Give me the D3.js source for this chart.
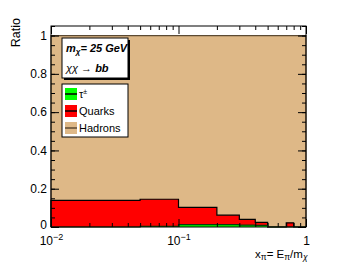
<!DOCTYPE html>
<html>
<head>
<meta charset="utf-8">
<script src="https://cdn.jsdelivr.net/npm/d3@7"></script>
<style>
  body { margin: 0; background: #fff; }
  svg { font-family: "Liberation Sans", Arial, sans-serif; }
</style>
</head>
<body>
<script>
// bin edges in x = E/m
const binEdges = [0.01, 0.05, 0.1, 0.2, 0.3, 0.4, 0.5, 0.6, 0.7, 0.8, 0.9, 1.0];
// fractions per bin
const tau = [0, 0.004, 0.012, 0.012, 0.010, 0.008, 0, 0, 0, 0, 0];
const quarks = [0.139, 0.141, 0.090, 0.050, 0.030, 0.016, 0, 0, 0.022, 0, 0];
const hadrons = [0.861, 0.855, 0.898, 0.938, 0.960, 0.976, 1, 1, 0.978, 1, 1];

const yTicks = [0, 0.2, 0.4, 0.6, 0.8, 1];
const xTicks = [0.01, 0.1, 1];

const width = 341;
const height = 264;
const margin = { top: 26, right: 35, bottom: 37, left: 51 };
const iw = width - margin.left - margin.right;
const ih = height - margin.top - margin.bottom;

const svg = d3.select('body').append('svg')
  .attr('width', width)
  .attr('height', height);

const x = d3.scaleLog().domain([0.01, 1]).range([0, iw]);
const y = d3.scaleLinear().domain([0, 1.05]).range([ih, 0]);

const g = svg.append('g')
  .attr('transform', `translate(${margin.left},${margin.top})`);

// stacked tops
const s1 = tau.slice();
const s2 = tau.map((d, i) => d + quarks[i]);
const s3 = s2.map((d, i) => d + hadrons[i]);

function stepPoints(vals) {
  const pts = [];
  vals.forEach((v, i) => {
    pts.push([binEdges[i], v]);
    pts.push([binEdges[i + 1], v]);
  });
  return pts;
}

const area = d3.area()
  .x(d => x(d[0]))
  .y0(y(0))
  .y1(d => y(d[1]));

const line = d3.line()
  .x(d => x(d[0]))
  .y(d => y(d[1]));

const layers = [
  { vals: s3, fill: '#deb887', stroke: '#5c4a33' },
  { vals: s2, fill: '#ff0000', stroke: '#000' },
  { vals: s1, fill: '#00ff00', stroke: '#0a3a0a' },
];

layers.forEach(l => {
  const pts = stepPoints(l.vals);
  g.append('path')
    .attr('d', area(pts))
    .attr('fill', l.fill);
  const outline = [[binEdges[0], 0]].concat(pts, [[binEdges[binEdges.length - 1], 0]]);
  g.append('path')
    .attr('d', line(outline))
    .attr('fill', 'none')
    .attr('stroke', l.stroke)
    .attr('stroke-width', 1.2);
});

// frame
g.append('rect')
  .attr('width', iw)
  .attr('height', ih)
  .attr('fill', 'none')
  .attr('stroke', '#000')
  .attr('stroke-width', 1);

// y axis left
const yMinor = d3.range(0, 1.0501, 0.05);
g.append('g')
  .call(d3.axisLeft(y).tickValues(yMinor).tickSize(-4).tickFormat(''))
  .call(a => a.select('.domain').remove());
g.append('g')
  .call(d3.axisLeft(y).tickValues(yTicks).tickSizeInner(-8).tickSizeOuter(0).tickPadding(4)
    .tickFormat(d => d === 0 || d === 1 ? d3.format('d')(d) : d3.format('.1f')(d)))
  .call(a => a.select('.domain').remove())
  .selectAll('text')
  .attr('font-size', 12)
  .attr('fill', '#000')
  .attr('dy', d => d === 0 ? '0.1em' : '0.32em')
  .style('font-family', '"Liberation Sans", Arial, sans-serif');

// y axis right
g.append('g')
  .attr('transform', `translate(${iw},0)`)
  .call(d3.axisRight(y).tickValues(yMinor).tickSize(-4).tickFormat(''))
  .call(a => a.select('.domain').remove());
g.append('g')
  .attr('transform', `translate(${iw},0)`)
  .call(d3.axisRight(y).tickValues(yTicks).tickSize(-8).tickFormat(''))
  .call(a => a.select('.domain').remove());

// x axis minor ticks
const xMinor = [];
[0.01, 0.1].forEach(dec => {
  for (let k = 2; k <= 9; k++) xMinor.push(dec * k);
});

g.append('g')
  .attr('transform', `translate(0,${ih})`)
  .call(d3.axisBottom(x).tickValues(xMinor).tickSize(-4).tickFormat(''))
  .call(a => a.select('.domain').remove());
const xa = g.append('g')
  .attr('transform', `translate(0,${ih})`)
  .call(d3.axisBottom(x).tickValues(xTicks).tickSizeInner(-8).tickSizeOuter(0).tickPadding(9).tickFormat(''))
  .call(a => a.select('.domain').remove());

const xLabels = ['10|-2', '10|-1', '1'];
xa.selectAll('.tick').each(function (d, i) {
  const t = d3.select(this).select('text')
    .attr('font-size', 12)
    .attr('fill', '#000')
    .attr('dy', '0.71em')
    .style('font-family', '"Liberation Sans", Arial, sans-serif');
  const parts = xLabels[i].split('|');
  t.text(null);
  t.append('tspan').text(parts[0]);
  if (parts[1]) {
    t.append('tspan').attr('font-size', 9).attr('dy', '-0.45em').text('\u2212' + parts[1].slice(1));
  }
});

// top axis
g.append('g')
  .call(d3.axisTop(x).tickValues(xMinor).tickSize(-4).tickFormat(''))
  .call(a => a.select('.domain').remove());
g.append('g')
  .call(d3.axisTop(x).tickValues(xTicks).tickSize(-8).tickFormat(''))
  .call(a => a.select('.domain').remove());

// axis titles
svg.append('text')
  .attr('transform', 'translate(20,18) rotate(-90)')
  .attr('text-anchor', 'end')
  .attr('font-size', 12.5)
  .text('Ratio');

const xt = svg.append('text')
  .attr('x', 255)
  .attr('y', 258)
  .attr('font-size', 11.5);
xt.append('tspan').text('x');
xt.append('tspan').attr('font-size', 8.5).attr('dy', 2).text('\u03c0');
xt.append('tspan').attr('dy', -2).text('= E');
xt.append('tspan').attr('font-size', 8.5).attr('dy', 2).text('\u03c0');
xt.append('tspan').attr('dy', -2).text('/m');
xt.append('tspan').attr('font-size', 8.5).attr('dy', 2).attr('font-style', 'italic').text('\u03c7');

// text box
svg.append('rect').attr('x', 64).attr('y', 40).attr('width', 66).attr('height', 40).attr('fill', '#000');
svg.append('rect').attr('x', 62).attr('y', 38).attr('width', 66).attr('height', 40)
  .attr('fill', '#fff').attr('stroke', '#000').attr('stroke-width', 1);

const t1 = svg.append('text').attr('x', 66).attr('y', 52)
  .attr('font-size', 11).attr('font-weight', 'bold').attr('font-style', 'italic');
t1.append('tspan').text('m');
t1.append('tspan').attr('font-size', 8).attr('dy', 2).text('\u03c7');
t1.append('tspan').attr('dy', -2).text('= 25 GeV');

const t2 = svg.append('text').attr('x', 66).attr('y', 72).attr('font-size', 11);
t2.append('tspan').attr('font-style', 'italic').text('\u03c7\u03c7');
t2.append('tspan').text(' \u2192 ');
t2.append('tspan').attr('font-weight', 'bold').attr('font-style', 'italic').text('bb');

// legend
const legNames = ['\u03c4', 'Quarks', 'Hadrons'];
const legFill = ['#00ff00', '#ff0000', '#deb887'];
const legLine = ['#000', '#000', '#5c4a33'];

svg.append('rect').attr('x', 62).attr('y', 84).attr('width', 66).attr('height', 53)
  .attr('fill', '#fff').attr('stroke', '#000').attr('stroke-width', 1);

legNames.forEach((n, i) => {
  const cy = 94 + i * 17;
  svg.append('rect').attr('x', 65).attr('y', cy - 6).attr('width', 12).attr('height', 12)
    .attr('fill', legFill[i]);
  svg.append('line').attr('x1', 65).attr('x2', 77).attr('y1', cy).attr('y2', cy)
    .attr('stroke', legLine[i]).attr('stroke-width', 1.5);
  const tx = svg.append('text').attr('x', 79).attr('y', cy + 4).attr('font-size', 11);
  tx.append('tspan').text(n);
  if (i === 0) tx.append('tspan').attr('font-size', 7).attr('dy', -4).text('\u00b1');
});
</script>
</body>
</html>
